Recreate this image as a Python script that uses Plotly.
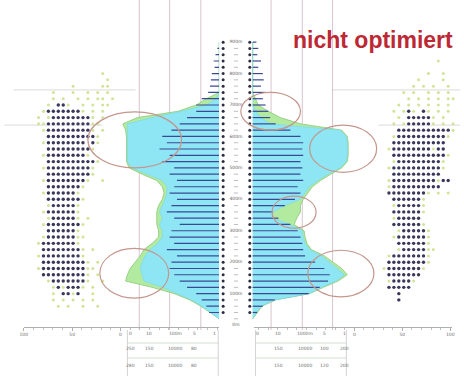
import plotly.graph_objects as go

# ---- altitude bands: row 45 is the highest, row 1 the lowest ----
band_rows = list(range(45, 0, -1))
label_rows = [0, 5, 10, 15, 20, 25, 30, 35, 40, 45]
label_text = ["0m", "100m", "200m", "300m", "400m", "500m", "600m", "700m", "800m", "900m"]

# left half (values per band, top to bottom)
left_bars = [0, 2, 4, 6, 5, 8, 9, 10, 12, 19, 25, 25, 35, 43, 52, 62, 57, 65, 54, 62,
             49, 54, 46, 49, 54, 46, 52, 57, 49, 43, 52, 54, 49, 57, 46, 52, 54, 49, 43, 35,
             25, 19, 14, 11, 0]
left_blue = [0, 0, 0, 0, 0, 0, 0, 0, 0, 3, 14, 41, 73, 100, 100, 100, 100, 100, 100, 100,
             95, 78, 62, 57, 57, 59, 62, 65, 62, 65, 62, 62, 67, 75, 81, 84, 86, 84, 82, 62,
             46, 30, 19, 9, 0]
left_green = [0, 0, 0, 0, 0, 0, 0, 0, 0, 14, 25, 45, 89, 105, 102, 101, 101, 101, 101, 101,
              98, 84, 68, 62, 60, 62, 66, 68, 68, 68, 66, 66, 73, 82, 86, 91, 97, 100, 102, 73,
              49, 32, 20, 10, 0]

# right half
right_bars = [4, 6, 5, 9, 6, 11, 12, 9, 14, 11, 14, 17, 19, 25, 41, 52, 55, 54, 55, 52,
              54, 52, 55, 49, 52, 46, 35, 22, 28, 41, 49, 52, 54, 55, 57, 68, 78, 84, 82, 73,
              61, 24, 11, 5, 0]
right_blue = [0, 0, 0, 0, 0, 0, 0, 0, 0, 0, 0, 3, 9, 19, 95, 102, 103, 103, 103, 102,
              95, 82, 71, 62, 57, 52, 35, 22, 22, 41, 54, 55, 57, 62, 75, 84, 92, 100, 91, 75,
              61, 24, 9, 4, 0]
right_green = [0, 0, 0, 0, 0, 0, 0, 0, 0, 3, 6, 17, 30, 52, 97, 103, 104, 104, 104, 103,
               97, 85, 74, 65, 60, 55, 52, 52, 48, 45, 56, 57, 59, 64, 78, 88, 97, 103, 93, 77,
               62, 25, 10, 5, 0]

# station grids: '#' occupied, 'o' marginal, one string per band
left_grid_rows = list(range(40, 2, -1))
left_grid = [
    "             o  ", "              o ", "       o     oo ", "   o   o  o o o ",
    "   o o  o o oo o", "  o ##o  o o oo ", " o#######o o o  ", "o o########o o  ",
    "oo#########oo   ", " o#########o o  ", "  ##########o   ", " o######## #o   ",
    "  #########o    ", " o########o     ", "  ##########o   ", " o#########o    ",
    "  #########o    ", " o########o  o  ", "  #######o      ", " o######o       ",
    "  #######o      ", "  o#####o       ", " o######o       ", "  o#####o o     ",
    " o#######o      ", "  ######o       ", " o######oo      ", "o#######o       ",
    " ########o o    ", "o########o      ", " #########o o   ", "o#########oo    ",
    " #########o o   ", "  o#######o  o  ", "   o#o###o o    ", "   o ##o#  o    ",
    "   o o o o o    ", "    o o  o  o   ",
]
right_grid_rows = list(range(42, 3, -1))
right_grid = [
    "           o   ", "               ", "         o  o  ", "       o    o  ",
    "      o o o  o ", "    o o  o o o ", "     o o o o oo", "   o o o o o o ",
    "  o o#o #o o o ", "   o #####o o  ", "  o o#####o o o", "   ###########o",
    "  o##########o ", "  ###########  ", " o########o##  ", "  ###########o ",
    "  o#########o  ", " o##########o  ", "  ##########   ", " o#########o## ",
    " o##########   ", " ########o o o ", "  ######o      ", "  o#####o      ",
    "  ######o      ", "  o#####       ", "  ######o      ", "   o#####o     ",
    "  o######o     ", "   ######o     ", "   o#####oo    ", " o#######o     ",
    " ########o     ", "o#######o      ", " #######       ", " o####o        ",
    " #####         ", "   #           ", "   #           ",
]

# highlighted zones: (axis, x0, x1, row0, row1)
highlights = [
    ("x", 143, 41, 25.0, 33.9),
    ("x", 130, 55, 4.3, 12.2),
    ("x2", -13, 52, 31.0, 37.0),
    ("x2", 62, 135, 24.3, 31.8),
    ("x2", 21, 69, 15.4, 20.5),
    ("x2", 60, 132, 4.5, 11.9),
]
guide_values = [20, 54, 87]

# summary tables under each half
left_table_cols = [97, 76, 48, 27, 5]
left_table = [["0", "10", "100m", "5", "1"],
              ["250", "150", "10000", "80", ""],
              ["280", "150", "10000", "80", ""]]
right_table_cols = [5, 28, 57, 78, 100]
right_table = [["0", "10", "1000m", "5", "1"],
               ["", "150", "10000", "100", "200"],
               ["", "150", "10000", "120", "200"]]

W, H = 464, 376
BLUE = "rgb(142,230,245)"
GREEN = "rgb(178,234,160)"
BAR = "rgb(58,72,150)"
DOT = "rgb(58,54,92)"
LIGHT = "rgb(210,228,152)"
RING = "rgb(196,150,140)"


def grid_points(rows, patterns, ch):
    xs, ys = [], []
    for r, line in zip(rows, patterns):
        for c, k in enumerate(line):
            if k == ch:
                xs.append(c)
                ys.append(r)
    return xs, ys


def bar_segments(values, rows):
    xs, ys = [], []
    for v, r in zip(values, rows):
        if v > 0:
            xs += [0, v, None]
            ys += [r, r, None]
    return xs, ys


fig = go.Figure()

# profile envelopes
for ax, green, blue in (("x", left_green, left_blue), ("x2", right_green, right_blue)):
    fig.add_trace(go.Scatter(x=green, y=band_rows, xaxis=ax, yaxis="y", mode="lines",
                             fill="tozerox", fillcolor=GREEN,
                             line=dict(color="rgb(140,200,120)", width=0.8)))
    fig.add_trace(go.Scatter(x=blue, y=band_rows, xaxis=ax, yaxis="y", mode="lines",
                             fill="tozerox", fillcolor=BLUE,
                             line=dict(color="rgb(120,215,235)", width=0.6)))

# per-band bars, drawn as thin strokes over the envelopes
for ax, vals in (("x", left_bars), ("x2", right_bars)):
    bx, by = bar_segments(vals, band_rows)
    fig.add_trace(go.Scatter(x=bx, y=by, xaxis=ax, yaxis="y", mode="lines",
                             line=dict(color=BAR, width=1.2)))

# central scale: two marker columns with band labels between them
center_rows = list(range(2, 46))
for cx in (8, 35):
    fig.add_trace(go.Scatter(x=[cx] * len(center_rows), y=center_rows, xaxis="x5", yaxis="y",
                             mode="markers", marker=dict(size=3, color="rgb(45,45,65)")))
minor_rows = [r for r in range(1, 46) if r not in label_rows]
fig.add_trace(go.Scatter(x=[21] * len(minor_rows), y=minor_rows, xaxis="x5", yaxis="y",
                         mode="markers",
                         marker=dict(symbol="line-ew", size=3,
                                     line=dict(color="rgb(175,175,175)", width=0.8))))
fig.add_trace(go.Scatter(x=[21] * len(label_rows), y=label_rows, xaxis="x5", yaxis="y",
                         mode="text", text=label_text,
                         textfont=dict(size=4.5, color="rgb(100,100,100)",
                                       family="DejaVu Sans")))

# station grids
for ax, rows, pats in (("x3", left_grid_rows, left_grid), ("x4", right_grid_rows, right_grid)):
    lx, ly = grid_points(rows, pats, "o")
    fig.add_trace(go.Scatter(x=lx, y=ly, xaxis=ax, yaxis="y", mode="markers",
                             marker=dict(size=3, color=LIGHT)))
    dx, dy = grid_points(rows, pats, "#")
    fig.add_trace(go.Scatter(x=dx, y=dy, xaxis=ax, yaxis="y", mode="markers",
                             marker=dict(size=3.4, color=DOT)))

# carriers for the two bottom scales
for ax in ("x6", "x7"):
    fig.add_trace(go.Scatter(x=[0], y=[0], xaxis=ax, yaxis="y", mode="markers",
                             marker=dict(size=1, opacity=0), hoverinfo="skip"))

shapes = []
y_table_top = (H - 330) / H
for ax in ("x", "x2"):
    for g in guide_values:
        shapes.append(dict(type="line", xref=ax, yref="paper", x0=g, x1=g, y0=y_table_top,
                           y1=1, layer="below",
                           line=dict(color="rgba(210,186,198,0.85)", width=1)))
# faint reference levels
for ax, x0, x1, r in (("x", 224, 91, 37.4), ("x2", 86, 226, 37.4),
                      ("x", 234, 127, 31.8), ("x2", 137, 226, 31.8)):
    shapes.append(dict(type="line", xref=ax, yref="y", x0=x0, x1=x1, y0=r, y1=r,
                       layer="below", line=dict(color="rgba(190,190,190,0.7)", width=0.8)))
for ax, x0, x1, r0, r1 in highlights:
    shapes.append(dict(type="circle", xref=ax, yref="y", x0=x0, x1=x1, y0=r0, y1=r1,
                       layer="above", line=dict(color=RING, width=1.2)))

# table frames
row_lines = [(H - 343) / H, (H - 358) / H]
for ax, cols in (("x", (100, 1)), ("x2", (3, 102))):
    for c in cols:
        shapes.append(dict(type="line", xref=ax, yref="paper", x0=c, x1=c, y0=0,
                           y1=y_table_top, line=dict(color="rgb(200,200,200)", width=0.8)))
    for yl in row_lines:
        shapes.append(dict(type="line", xref=ax, yref="paper", x0=cols[0], x1=cols[1],
                           y0=yl, y1=yl, line=dict(color="rgb(200,215,200)", width=0.8)))

annotations = []
table_y = [(H - 338) / H, (H - 353) / H, (H - 370) / H]
for ax, cols, table in (("x", left_table_cols, left_table),
                        ("x2", right_table_cols, right_table)):
    for yy, row in zip(table_y, table):
        for cx, txt in zip(cols, row):
            if txt:
                annotations.append(dict(text=txt, xref=ax, yref="paper", x=cx, y=yy,
                                        showarrow=False,
                                        font=dict(size=4.5, color="rgb(110,110,110)",
                                                  family="DejaVu Sans")))
annotations.append(dict(text="<b>nicht optimiert</b>", xref="paper", yref="paper",
                        x=374 / W, y=1 - 40 / H, xanchor="center", yanchor="middle",
                        showarrow=False,
                        font=dict(family="Liberation Sans", size=23, color="rgb(188,40,52)")))

hidden = dict(visible=False, fixedrange=True)
scale_font = dict(size=4.5, color="rgb(110,110,110)", family="DejaVu Sans")
scale_common = dict(anchor="free", position=(H - 327) / H, showline=True,
                    linecolor="rgb(175,175,175)", linewidth=0.8, ticks="outside",
                    ticklen=3, tickcolor="rgb(175,175,175)", tickfont=scale_font,
                    tickvals=[0, 50, 100], showgrid=False, zeroline=False,
                    minor=dict(dtick=10, ticks="outside", ticklen=2,
                               tickcolor="rgb(190,190,190)", showgrid=False),
                    fixedrange=True)

fig.update_layout(
    width=W, height=H,
    margin=dict(l=0, r=0, t=0, b=0),
    paper_bgcolor="white", plot_bgcolor="rgba(0,0,0,0)",
    showlegend=False,
    yaxis=dict(domain=[0, 1], range=[-8.1, 51.7], **hidden),
    xaxis=dict(domain=[0, 218 / W], range=[234.4, 0], anchor="y", **hidden),
    xaxis2=dict(domain=[232 / W, 1], range=[-21.5, 228], anchor="y", **hidden),
    xaxis3=dict(domain=[0, 120 / W], range=[-7, 17], anchor="y", **hidden),
    xaxis4=dict(domain=[350 / W, 1], range=[-7, 15.8], anchor="y", **hidden),
    xaxis5=dict(domain=[214 / W, 256 / W], range=[0, 42], anchor="y", **hidden),
    xaxis6=dict(domain=[20 / W, 218 / W], range=[100, -102], **scale_common),
    xaxis7=dict(domain=[253 / W, 454 / W], range=[-105, 102], **scale_common),
    shapes=shapes,
    annotations=annotations,
)

fig.write_html("out.html")
